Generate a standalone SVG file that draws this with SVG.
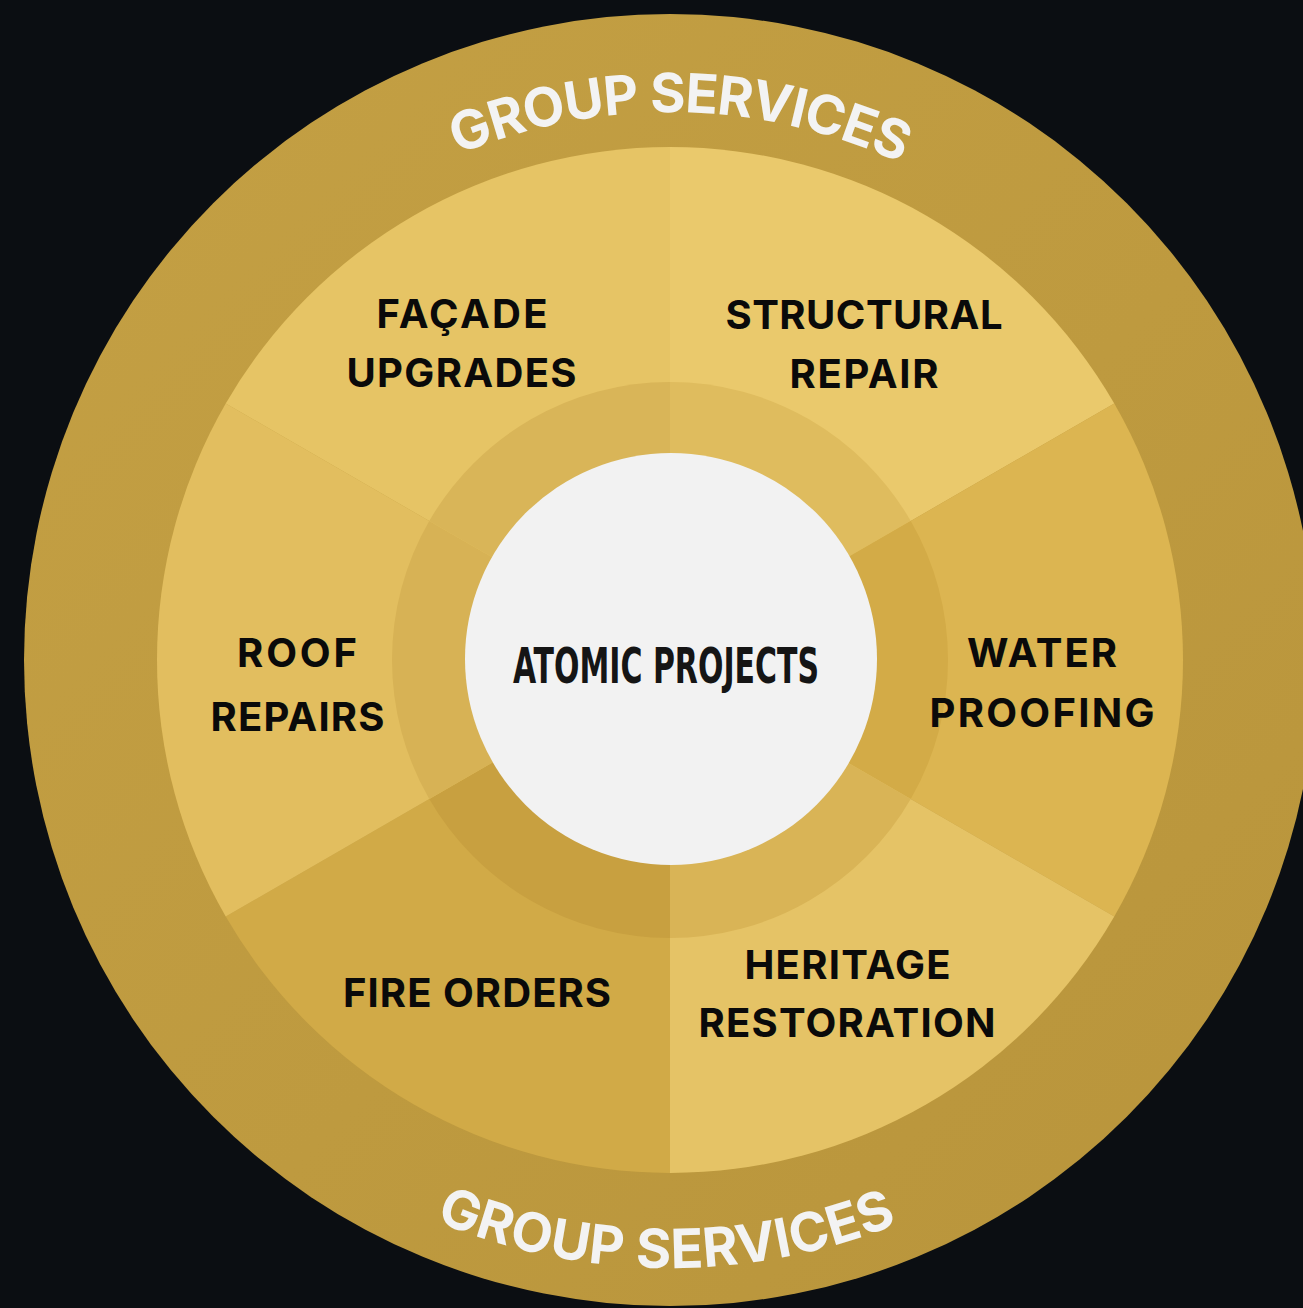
<svg xmlns="http://www.w3.org/2000/svg" width="1303" height="1308" viewBox="0 0 1303 1308">
  <defs>
    <linearGradient id="ringFill" x1="0" y1="0" x2="1" y2="1">
      <stop offset="0" stop-color="#c4a044"/>
      <stop offset="0.55" stop-color="#be9a3f"/>
      <stop offset="1" stop-color="#b8943b"/>
    </linearGradient>
    <!-- baseline arcs for the ring captions, centred on the wheel hub (670,660) -->
    <path id="arcTop" d="M 122 660 A 548 548 0 0 1 1218 660"/>
    <path id="arcBottom" d="M 62 660 A 608 608 0 0 0 1278 660"/>
  </defs>
  <style>
    .label { font-family: Inter, "Open Sans", "DejaVu Sans", sans-serif; font-weight: 700; font-size: 40px; fill: #0a0a0a; text-anchor: middle; }
    .ring-caption { font-family: Inter, "Open Sans", "DejaVu Sans", sans-serif; font-weight: 700; font-size: 54px; fill: #f3f3f3; }
    .hub-title { font-family: "Liberation Sans Narrow", "DejaVu Sans Condensed", "Liberation Sans", sans-serif; font-weight: 700; font-size: 50px; fill: #151515; }
  </style>

  <rect x="0" y="0" width="1303" height="1308" fill="#0b0e12"/>

  <!-- outer band -->
  <g id="outer-ring">
    <circle cx="670" cy="660" r="646" fill="url(#ringFill)"/>
    <text class="ring-caption"><textPath href="#arcTop" startOffset="50.6%" text-anchor="middle" textLength="456">GROUP SERVICES</textPath></text>
    <text class="ring-caption"><textPath href="#arcBottom" startOffset="49.8%" text-anchor="middle" textLength="474">GROUP SERVICES</textPath></text>
  </g>

  <!-- six service wedges: outer sector, darker inner band, label -->
  <g id="wheel">
    <g id="structural-repair">
      <path d="M 670 660 L 670 147 A 513 513 0 0 1 1114.27 403.5 Z" fill="#eac96c"/>
      <path d="M 670 660 L 670 382 A 278 278 0 0 1 910.75 521 Z" fill="#dfbc5e"/>
      <text class="label" x="864" y="329" textLength="277">STRUCTURAL</text>
      <text class="label" x="864" y="388" textLength="149">REPAIR</text>
    </g>
    <g id="water-proofing">
      <path d="M 670 660 L 1114.27 403.5 A 513 513 0 0 1 1114.27 916.5 Z" fill="#dcb551"/>
      <path d="M 670 660 L 910.75 521 A 278 278 0 0 1 910.75 799 Z" fill="#d3ab47"/>
      <text class="label" x="1042" y="667" textLength="150">WATER</text>
      <text class="label" x="1042" y="727" textLength="225">PROOFING</text>
    </g>
    <g id="heritage-restoration">
      <path d="M 670 660 L 1114.27 916.5 A 513 513 0 0 1 670 1173 Z" fill="#e5c366"/>
      <path d="M 670 660 L 910.75 799 A 278 278 0 0 1 670 938 Z" fill="#d9b456"/>
      <text class="label" x="847.5" y="979" textLength="206">HERITAGE</text>
      <text class="label" x="847" y="1037" textLength="297">RESTORATION</text>
    </g>
    <g id="fire-orders">
      <path d="M 670 660 L 670 1173 A 513 513 0 0 1 225.73 916.5 Z" fill="#d1aa47"/>
      <path d="M 670 660 L 670 938 A 278 278 0 0 1 429.25 799 Z" fill="#c8a040"/>
      <text class="label" x="477" y="1007" textLength="268">FIRE ORDERS</text>
    </g>
    <g id="roof-repairs">
      <path d="M 670 660 L 225.73 916.5 A 513 513 0 0 1 225.73 403.5 Z" fill="#e2be5f"/>
      <path d="M 670 660 L 429.25 799 A 278 278 0 0 1 429.25 521 Z" fill="#d7b255"/>
      <text class="label" x="297" y="667" textLength="120">ROOF</text>
      <text class="label" x="297.5" y="731" textLength="174">REPAIRS</text>
    </g>
    <g id="facade-upgrades">
      <path d="M 670 660 L 225.73 403.5 A 513 513 0 0 1 670 147 Z" fill="#e6c465"/>
      <path d="M 670 660 L 429.25 521 A 278 278 0 0 1 670 382 Z" fill="#d9b558"/>
      <text class="label" x="462" y="328" textLength="171">FAÇADE</text>
      <text class="label" x="461.5" y="387" textLength="230">UPGRADES</text>
    </g>
  </g>

  <!-- hub -->
  <g id="atomic-projects">
    <circle cx="671" cy="659" r="206" fill="#f2f2f2"/>
    <text class="hub-title" x="513" y="683" textLength="306" lengthAdjust="spacingAndGlyphs">ATOMIC PROJECTS</text>
  </g>
</svg>
